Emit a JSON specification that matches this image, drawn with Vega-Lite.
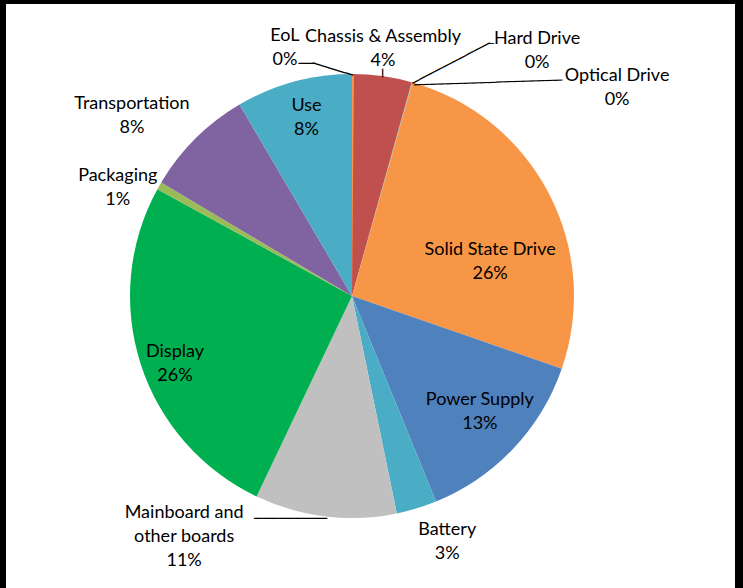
{
  "$schema": "https://vega.github.io/schema/vega-lite/v6.json",
  "background": "black",
  "padding": {"left": 6, "top": 4, "right": 8, "bottom": 0},
  "spacing": 0,
  "bounds": "flush",
  "config": {
    "view": {"stroke": null},
    "text": {"font": "Lato", "fontSize": 18, "lineHeight": 24, "lineBreak": "\n", "color": "#000000", "align": "center", "baseline": "middle"}
  },
  "datasets": {
    "parts": [
      {"idx": 1, "part": "Chassis & Assembly", "share": 4.33, "label": "Chassis & Assembly\n4%"},
      {"idx": 2, "part": "Hard Drive", "share": 0.03, "label": "Hard Drive\n0%"},
      {"idx": 3, "part": "Optical Drive", "share": 0.03, "label": "Optical Drive\n0%"},
      {"idx": 4, "part": "Solid State Drive", "share": 25.9, "label": "Solid State Drive\n26%"},
      {"idx": 5, "part": "Power Supply", "share": 13.5, "label": "Power Supply\n13%"},
      {"idx": 6, "part": "Battery", "share": 2.94, "label": "Battery\n3%"},
      {"idx": 7, "part": "Mainboard and other boards", "share": 10.3, "label": "Mainboard and\nother boards\n11%"},
      {"idx": 8, "part": "Display", "share": 25.9, "label": "Display\n26%"},
      {"idx": 9, "part": "Packaging", "share": 0.55, "label": "Packaging\n1%"},
      {"idx": 10, "part": "Transportation", "share": 8.0, "label": "Transportation\n8%"},
      {"idx": 11, "part": "Use", "share": 8.45, "label": "Use\n8%"},
      {"idx": 12, "part": "EoL", "share": 0.14, "label": "EoL\n0%"}
    ]
  },
  "hconcat": [
    {
      "width": 692,
      "height": 584,
      "view": {"fill": "white", "stroke": null},
      "data": {"name": "parts"},
      "transform": [
        {"stack": "share", "groupby": [], "sort": [{"field": "idx", "order": "ascending"}], "as": ["a0", "a1"]}
      ],
      "layer": [
        {
          "mark": {"type": "arc", "outerRadius": 222},
          "encoding": {
            "theta": {"field": "a0", "type": "quantitative", "scale": {"nice": false, "zero": true}},
            "theta2": {"field": "a1"},
            "color": {
              "field": "part", "type": "nominal", "legend": null,
              "scale": {
                "domain": ["Chassis & Assembly", "Hard Drive", "Optical Drive", "Solid State Drive", "Power Supply", "Battery", "Mainboard and other boards", "Display", "Packaging", "Transportation", "Use", "EoL"],
                "range": ["#C0504D", "#4F81BD", "#9BBB59", "#F79646", "#4F81BD", "#4BACC6", "#C0C0C0", "#00B050", "#9BBB59", "#8064A2", "#4BACC6", "#F79646"]
              }
            }
          }
        },
        {"transform": [{"filter": "datum.part === 'Chassis & Assembly'"}], "mark": {"type": "text", "radius": 222, "dx": 31, "dy": -37.5}, "encoding": {"theta": {"field": "a0", "type": "quantitative", "stack": null}, "text": {"field": "label"}}},
        {"transform": [{"filter": "datum.part === 'Hard Drive'"}], "mark": {"type": "text", "radius": 222, "dx": 125.4, "dy": -43.6}, "encoding": {"theta": {"field": "a0", "type": "quantitative", "stack": null}, "text": {"field": "label"}}},
        {"transform": [{"filter": "datum.part === 'Optical Drive'"}], "mark": {"type": "text", "radius": 222, "dx": 205, "dy": -5.8}, "encoding": {"theta": {"field": "a0", "type": "quantitative", "stack": null}, "text": {"field": "label"}}},
        {"transform": [{"filter": "datum.part === 'Solid State Drive'"}], "mark": {"type": "text", "radius": 222, "dx": 77.6, "dy": 167.1}, "encoding": {"theta": {"field": "a0", "type": "quantitative", "stack": null}, "text": {"field": "label"}}},
        {"transform": [{"filter": "datum.part === 'Power Supply'"}], "mark": {"type": "text", "radius": 222, "dx": -81.9, "dy": 31.3}, "encoding": {"theta": {"field": "a0", "type": "quantitative", "stack": null}, "text": {"field": "label"}}},
        {"transform": [{"filter": "datum.part === 'Battery'"}], "mark": {"type": "text", "radius": 222, "dx": 11.2, "dy": 28.3}, "encoding": {"theta": {"field": "a0", "type": "quantitative", "stack": null}, "text": {"field": "label"}}},
        {"transform": [{"filter": "datum.part === 'Mainboard and other boards'"}], "mark": {"type": "text", "radius": 222, "dx": -212.7, "dy": -0.5}, "encoding": {"theta": {"field": "a0", "type": "quantitative", "stack": null}, "text": {"field": "label"}}},
        {"transform": [{"filter": "datum.part === 'Display'"}], "mark": {"type": "text", "radius": 222, "dx": -81.6, "dy": -144.4}, "encoding": {"theta": {"field": "a0", "type": "quantitative", "stack": null}, "text": {"field": "label"}}},
        {"transform": [{"filter": "datum.part === 'Packaging'"}], "mark": {"type": "text", "radius": 222, "dx": -39.6, "dy": -13.1}, "encoding": {"theta": {"field": "a0", "type": "quantitative", "stack": null}, "text": {"field": "label"}}},
        {"transform": [{"filter": "datum.part === 'Transportation'"}], "mark": {"type": "text", "radius": 222, "dx": -29.3, "dy": -78.4}, "encoding": {"theta": {"field": "a0", "type": "quantitative", "stack": null}, "text": {"field": "label"}}},
        {"transform": [{"filter": "datum.part === 'Use'"}], "mark": {"type": "text", "radius": 222, "dx": 67, "dy": 1}, "encoding": {"theta": {"field": "a0", "type": "quantitative", "stack": null}, "text": {"field": "label"}}},
        {"transform": [{"filter": "datum.part === 'EoL'"}], "mark": {"type": "text", "radius": 222, "dx": -67.1, "dy": -38.5}, "encoding": {"theta": {"field": "a0", "type": "quantitative", "stack": null}, "text": {"field": "label"}}},
        {"transform": [{"filter": "datum.part === 'EoL'"}], "mark": {"type": "text", "font": "DejaVu Sans Mono", "fontSize": 14, "radius": 222, "angle": 16.8, "dx": -19.65, "dy": 1.6, "text": "─────"}, "encoding": {"theta": {"field": "a0", "type": "quantitative", "stack": null}}},
        {"transform": [{"filter": "datum.part === 'EoL'"}], "mark": {"type": "text", "font": "DejaVu Sans Mono", "fontSize": 14, "radius": 222, "dx": -45.1, "dy": -9.9, "text": "──"}, "encoding": {"theta": {"field": "a0", "type": "quantitative", "stack": null}}},
        {"transform": [{"filter": "datum.part === 'Chassis & Assembly'"}], "mark": {"type": "text", "font": "DejaVu Sans Mono", "fontSize": 14, "radius": 222, "angle": 90, "dx": -1, "dy": -30, "text": "─"}, "encoding": {"theta": {"field": "a0", "type": "quantitative", "stack": null}}},
        {"transform": [{"filter": "datum.part === 'Hard Drive'"}], "mark": {"type": "text", "font": "DejaVu Sans Mono", "fontSize": 14.5, "radius": 222, "angle": -27.6, "dx": 43.9, "dy": 2.3, "text": "──────────"}, "encoding": {"theta": {"field": "a0", "type": "quantitative", "stack": null}}},
        {"transform": [{"filter": "datum.part === 'Hard Drive'"}], "mark": {"type": "text", "font": "DejaVu Sans Mono", "fontSize": 10, "radius": 222, "dx": 79.4, "dy": -38.5, "text": "─"}, "encoding": {"theta": {"field": "a0", "type": "quantitative", "stack": null}}},
        {"transform": [{"filter": "datum.part === 'Optical Drive'"}], "mark": {"type": "text", "font": "DejaVu Sans Mono", "fontSize": 13.7, "radius": 222, "angle": -1.93, "dx": 76, "dy": 3.4, "text": "──────────────────"}, "encoding": {"theta": {"field": "a0", "type": "quantitative", "stack": null}}},
        {"transform": [{"filter": "datum.part === 'Mainboard and other boards'"}], "mark": {"type": "text", "font": "DejaVu Sans Mono", "fontSize": 13.5, "radius": 222, "dx": -106.2, "dy": 5.4, "text": "─────────"}, "encoding": {"theta": {"field": "a0", "type": "quantitative", "stack": null}}}
      ]
    },
    {
      "width": 37,
      "height": 584,
      "view": {"fill": "white", "stroke": null},
      "data": {"values": [{"part": "none"}]},
      "mark": {"type": "text", "text": ""},
      "encoding": {}
    }
  ]
}
